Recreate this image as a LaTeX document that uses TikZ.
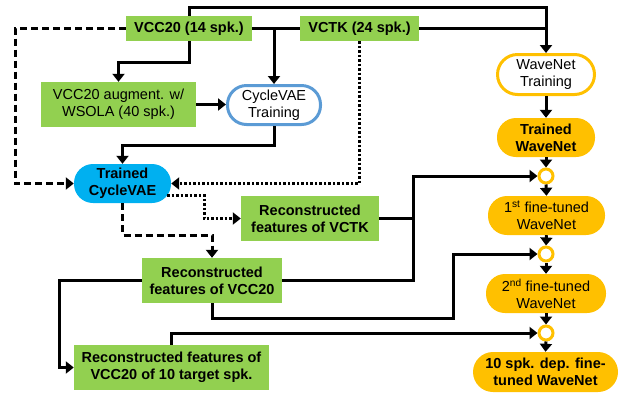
\documentclass[tikz,border=0pt]{standalone}
\usepackage{fontspec}
\setmainfont{Liberation Sans}
\usetikzlibrary{arrows.meta,calc}
\definecolor{grn}{HTML}{92D050}
\definecolor{cyanb}{HTML}{00B0F0}
\definecolor{blueb}{HTML}{5B9BD5}
\definecolor{orng}{HTML}{FFC000}
\begin{document}
\begin{tikzpicture}[x=1pt,y=-1pt,
  font=\fontsize{14.5}{17}\selectfont,
  gbox/.style={fill=grn, inner sep=0pt, align=center},
  pill/.style={inner sep=0pt, align=center, rounded corners=19pt},
  ring/.style={circle, draw=orng, line width=3pt, fill=white, minimum size=14pt, inner sep=0pt},
  ln/.style={line width=3pt, -{Triangle[width=12pt,length=8pt]}},
  ln0/.style={line width=3pt},
  dsh/.style={line width=3pt, dash pattern=on 7pt off 4pt, -{Triangle[width=12pt,length=8pt]}},
  dtt/.style={line width=3pt, dash pattern=on 2.5pt off 2pt, -{Triangle[width=12pt,length=8pt]}}]
\useasboundingbox (0,0) rectangle (628,392);
% nodes
\node[gbox, minimum width=126pt, minimum height=25pt] (vcc) at (189,28.5) {\bfseries VCC20 (14 spk.)};
\node[gbox, minimum width=119pt, minimum height=25pt] (vctk) at (359.5,28.5) {\bfseries VCTK (24 spk.)};
\node[gbox, minimum width=155pt, minimum height=45pt] (aug) at (118.5,104.5) {VCC20 augment. w/\\WSOLA (40 spk.)};
\node[pill, draw=blueb, line width=3pt, fill=white, minimum width=93pt, minimum height=39pt] (cvt) at (274,105) {CycleVAE\\Training};
\node[pill, fill=cyanb, minimum width=97pt, minimum height=39pt] (tcv) at (122.5,183.5) {\bfseries Trained\\\bfseries CycleVAE};
\node[gbox, minimum width=138pt, minimum height=45pt] (rvctk) at (310,218.5) {\bfseries Reconstructed\\\bfseries features of VCTK};
\node[gbox, minimum width=140pt, minimum height=45pt] (rvcc) at (212,280.5) {\bfseries Reconstructed\\\bfseries features of VCC20};
\node[gbox, minimum width=195pt, minimum height=45pt] (r10) at (171.5,367.5) {\bfseries Reconstructed features of\\\bfseries VCC20 of 10 target spk.};
\node[pill, draw=orng, line width=3pt, fill=white, minimum width=97pt, minimum height=40pt, rounded corners=20pt] (wt) at (546,74.5) {WaveNet\\Training};
\node[pill, fill=orng, minimum width=98pt, minimum height=39pt] (tw) at (546,137.5) {\bfseries Trained\\\bfseries WaveNet};
\node[ring] (c1) at (546,176) {};
\node[pill, fill=orng, minimum width=117pt, minimum height=39pt] (ft1) at (546.5,215.5) {1\textsuperscript{st} fine-tuned\\WaveNet};
\node[ring] (c2) at (546,254) {};
\node[pill, fill=orng, minimum width=120pt, minimum height=39pt] (ft2) at (546,293.5) {2\textsuperscript{nd} fine-tuned\\WaveNet};
\node[ring] (c3) at (546,333) {};
\node[pill, fill=orng, minimum width=145pt, minimum height=40pt, rounded corners=20pt] (ft10) at (545.5,372) {\bfseries 10 spk. dep. fine-\\\bfseries tuned WaveNet};
% connectors
\draw[ln] (vcc.north) -- (189,7) -| (wt.north);
\draw[ln0] (vctk.east) -- (wt.north |- vctk.east);
\draw[ln] (vcc.south) -- (189,62) -| (aug.north);
\draw[ln] (vcc.east) -| (cvt.north);
\draw[ln0] (vctk.west) -- (cvt.north |- vctk.west);
\draw[ln] (aug.east) -- (cvt.west |- aug.east);
\draw[ln] (cvt.south) -- (274,145) -| (tcv.north);
\draw[dsh] (vcc.west) -- (15,28.5) |- (tcv.west);
\draw[dtt] (vctk.south) |- (tcv.east);
\draw[dtt] ($(tcv.east)+(-4,11.5)$) -- (204,195) |- (rvctk.west);
\draw[dsh] (tcv.south) -- (122.5,235) -| (rvcc.north);
\draw[ln] (rvcc.west) -- (59,280.5) |- (r10.west);
\draw[ln] (rvctk.east) -- (413,218.5) |- (c1.west);
\draw[ln0] (rvcc.east) -- (413,280.5) -- (413,218.5);
\draw[ln] (rvcc.south) |- (453,318.5) |- (c2.west);
\draw[ln] (r10.north) |- (c3.west);
\draw[ln] (wt.south) -- (tw.north);
\draw[ln] (tw.south) -- (c1.north);
\draw[ln] (c1.south) -- (ft1.north);
\draw[ln] (ft1.south) -- (c2.north);
\draw[ln] (c2.south) -- (ft2.north);
\draw[ln] (ft2.south) -- (c3.north);
\draw[ln] (c3.south) -- (ft10.north);
\end{tikzpicture}
\end{document}
